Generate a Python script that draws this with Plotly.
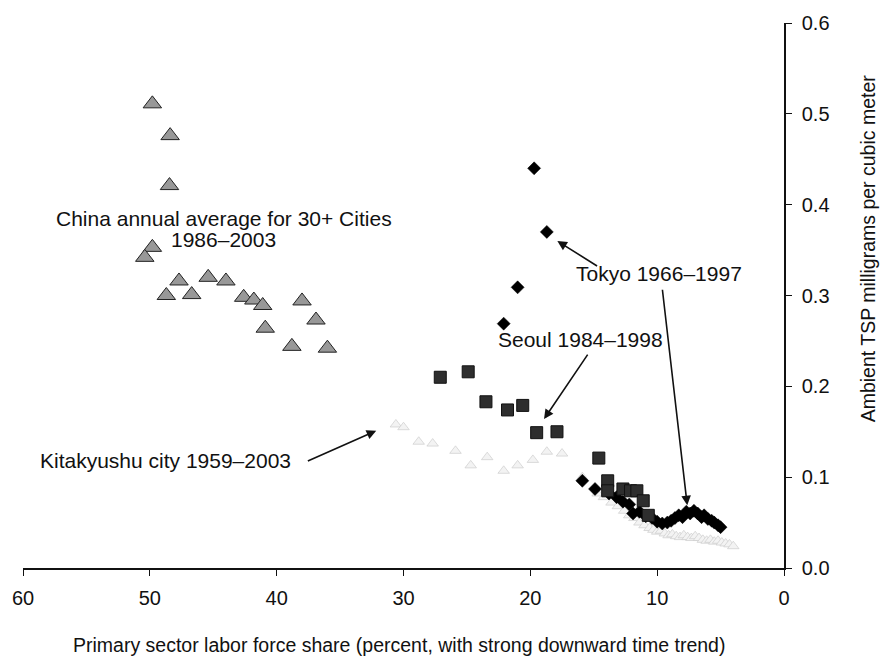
import plotly.graph_objects as go

# China: annual average for 30+ cities, 1986-2003
china_share = [49.8, 48.4, 48.45, 49.8, 50.4, 47.7, 48.7, 46.7, 45.4, 44.0,
               42.6, 41.8, 41.1, 40.9, 38.0, 36.9, 38.8, 36.0]
china_tsp = [0.511, 0.476, 0.421, 0.353, 0.342, 0.316, 0.300, 0.301, 0.320, 0.316,
             0.298, 0.295, 0.289, 0.264, 0.294, 0.273, 0.244, 0.242]

# Tokyo 1966-1997
tokyo_share = [22.1, 21.0, 19.7, 18.7, 15.9, 14.9, 13.8, 13.2, 12.7, 12.2,
               11.9, 11.4, 10.9, 10.4, 10.0, 9.6, 9.2, 8.9, 8.6, 8.3,
               8.0, 7.7, 7.4, 7.1, 6.8, 6.5, 6.3, 6.0, 5.7, 5.5, 5.2, 5.0]
tokyo_tsp = [0.269, 0.309, 0.440, 0.370, 0.096, 0.087, 0.082, 0.078, 0.073, 0.070,
             0.060, 0.062, 0.057, 0.055, 0.051, 0.049, 0.050, 0.052, 0.055, 0.058,
             0.056, 0.062, 0.060, 0.063, 0.060, 0.056, 0.058, 0.054, 0.052, 0.050,
             0.047, 0.045]

# Seoul 1984-1998
seoul_share = [27.1, 24.9, 23.5, 21.8, 20.6, 19.5, 17.9, 14.6, 13.9, 13.9,
               12.7, 12.1, 11.6, 11.1, 10.7]
seoul_tsp = [0.210, 0.216, 0.183, 0.174, 0.179, 0.149, 0.150, 0.121, 0.096, 0.085,
             0.087, 0.085, 0.085, 0.074, 0.058]

# Kitakyushu city 1959-2003
kita_share = [30.6, 30.0, 28.8, 27.7, 25.9, 24.7, 23.4, 22.1, 21.0, 19.8,
              18.7, 17.5, 15.9, 14.7, 14.2, 13.6, 13.1, 12.6, 12.2, 11.8,
              11.4, 11.0, 10.6, 10.3, 10.0, 9.7, 9.4, 9.1, 8.8, 8.5,
              8.2, 7.9, 7.6, 7.3, 7.0, 6.7, 6.4, 6.1, 5.8, 5.5,
              5.2, 4.9, 4.6, 4.3, 4.0]
kita_tsp = [0.158, 0.155, 0.139, 0.137, 0.129, 0.113, 0.122, 0.107, 0.113, 0.119,
            0.128, 0.126, 0.100, 0.082, 0.078, 0.072, 0.068, 0.063, 0.058, 0.055,
            0.050, 0.047, 0.044, 0.042, 0.040, 0.041, 0.038, 0.036, 0.037, 0.035,
            0.034, 0.036, 0.034, 0.033, 0.035, 0.033, 0.031, 0.030, 0.031, 0.029,
            0.030, 0.028, 0.027, 0.026, 0.024]

x_ticks = [60, 50, 40, 30, 20, 10, 0]
y_ticks = [0.0, 0.1, 0.2, 0.3, 0.4, 0.5, 0.6]

FONT = "Liberation Sans, Arial, Helvetica, sans-serif"
INK = "#111111"

fig = go.Figure()

fig.add_trace(go.Scatter(
    x=kita_share, y=kita_tsp, mode="markers", name="Kitakyushu",
    marker=dict(symbol="triangle-up", size=10, color="#f3f3f3",
                line=dict(color="#cdcdcd", width=0.7)),
))
fig.add_trace(go.Scatter(
    x=china_share, y=china_tsp, mode="markers", name="China",
    marker=dict(symbol="triangle-up", size=16, color="#989898",
                line=dict(color="#222222", width=1)),
))
fig.add_trace(go.Scatter(
    x=tokyo_share, y=tokyo_tsp, mode="markers", name="Tokyo",
    marker=dict(symbol="diamond", size=10, color="#000000",
                line=dict(color="#000000", width=0.5)),
))
fig.add_trace(go.Scatter(
    x=seoul_share, y=seoul_tsp, mode="markers", name="Seoul",
    marker=dict(symbol="square", size=12, color="#2e2e2e",
                line=dict(color="#111111", width=1)),
))

label_font = dict(family=FONT, size=21, color=INK)

labels = [
    dict(x=44.18, y=0.3845, text="China annual average for 30+ Cities"),
    dict(x=44.18, y=0.3615, text="1986\u20132003"),
    dict(x=9.87, y=0.324, text="Tokyo 1966\u20131997"),
    dict(x=16.04, y=0.252, text="Seoul 1984\u20131998"),
    dict(x=48.74, y=0.118, text="Kitakyushu city 1959\u20132003"),
]
for lab in labels:
    fig.add_annotation(x=lab["x"], y=lab["y"], text=lab["text"], showarrow=False,
                       xref="x", yref="y", xanchor="center", yanchor="middle",
                       align="center", font=label_font)

# arrows: (head x, head y, tail x, tail y)
arrows = [
    (17.87, 0.360, 14.62, 0.3315),
    (7.63, 0.069, 9.6, 0.308),
    (18.92, 0.164, 15.4, 0.2366),
    (32.15, 0.151, 37.66, 0.117),
]
for hx, hy, tx, ty in arrows:
    fig.add_annotation(x=hx, y=hy, ax=tx, ay=ty, xref="x", yref="y",
                       axref="x", ayref="y", text="", showarrow=True,
                       arrowhead=2, arrowsize=1.2, arrowwidth=1.6,
                       arrowcolor=INK)

title_font = dict(family=FONT, size=19.5, color=INK)
fig.add_annotation(x=0.494, y=-0.1405, xref="paper", yref="paper",
                   text="Primary sector labor force share (percent, with strong downward time trend)",
                   showarrow=False, xanchor="center", yanchor="middle",
                   font=title_font)
fig.add_annotation(x=1.110, y=0.586, xref="paper", yref="paper",
                   text="Ambient TSP milligrams per cubic meter", textangle=-90,
                   showarrow=False, xanchor="center", yanchor="middle",
                   font=title_font)

tick_font = dict(family=FONT, size=20, color=INK)
fig.update_xaxes(range=[60, 0], tickvals=x_ticks, ticks="outside", ticklen=6,
                 tickwidth=1.2, tickcolor=INK, ticklabelstandoff=5,
                 showline=True, linecolor=INK, linewidth=1.5,
                 showgrid=False, zeroline=False, tickfont=tick_font)
fig.update_yaxes(range=[0, 0.6], tickvals=y_ticks, tickformat=".1f", side="right",
                 ticks="outside", ticklen=6, tickwidth=1.2, tickcolor=INK,
                 ticklabelstandoff=6,
                 showline=True, linecolor=INK, linewidth=1.5,
                 showgrid=False, zeroline=False, tickfont=tick_font)

fig.update_layout(
    width=885, height=663,
    margin=dict(l=21, r=101, t=20, b=95),
    paper_bgcolor="white", plot_bgcolor="white",
    showlegend=False,
    font=dict(family=FONT, color=INK),
)

fig.write_html("out.html")
